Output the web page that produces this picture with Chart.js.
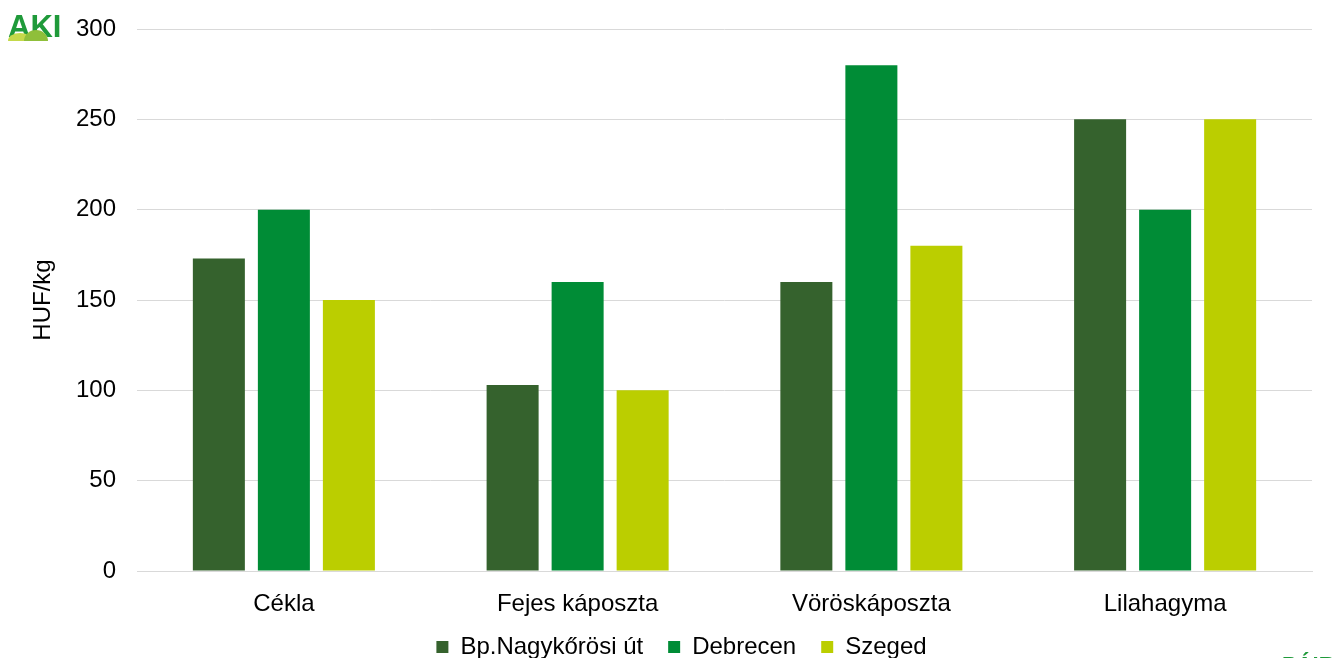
<!DOCTYPE html>
<html>
<head>
<meta charset="utf-8">
<script src="https://cdn.jsdelivr.net/npm/chart.js@4/dist/chart.umd.min.js"></script>
<style>
  html, body { margin: 0; padding: 0; background: #fff; }
  #wrap { width: 1337px; height: 658px; }
</style>
</head>
<body>
<div id="wrap"><canvas id="myChart"></canvas></div>
<script>
const categories = ['Cékla', 'Fejes káposzta', 'Vöröskáposzta', 'Lilahagyma'];
const budapest = [173, 103, 160, 250];
const debrecen = [200, 160, 280, 200];
const szeged = [150, 100, 180, 250];

const FONT = { family: 'Liberation Sans', size: 24 };

// small logo marks in the corners
const logos = {
  id: 'logos',
  afterLayout(chart) {
    // move legend like the original
    const lg = chart.legend;
    lg.left += 13; lg.right += 13;
    lg.top -= 9; lg.bottom -= 9;
  },
  afterDraw(chart) {
    const c = chart.ctx;
    c.save();
    c.fillStyle = '#1f9a3a';
    c.font = 'bold 31px "Liberation Sans"';
    c.textBaseline = 'alphabetic';
    c.fillText('AKI', 8, 37);
    c.fillStyle = '#c4d94a';
    c.beginPath();
    c.ellipse(20, 41, 12, 8, 0, Math.PI, 0);
    c.fill();
    c.fillStyle = '#8fbf3a';
    c.beginPath();
    c.ellipse(36, 41, 12, 11, 0, Math.PI, 0);
    c.fill();
    c.fillStyle = '#1f9a3a';
    c.font = 'bold 22px "Liberation Sans"';
    c.fillText('PÁIR', 1282, 672);
    c.restore();
  }
};

new Chart(document.getElementById('myChart'), {
  type: 'bar',
  data: {
    labels: categories,
    datasets: [
      { label: 'Bp.Nagykőrösi út', data: budapest, backgroundColor: '#35622d' },
      { label: 'Debrecen', data: debrecen, backgroundColor: '#008c36' },
      { label: 'Szeged', data: szeged, backgroundColor: '#bbce00' },
    ],
  },
  options: {
    responsive: true,
    maintainAspectRatio: false,
    animation: false,
    categoryPercentage: 0.664,
    barPercentage: 0.8,
    layout: { padding: { top: 29, right: 25, left: 25, bottom: -20 } },
    plugins: {
      tooltip: { enabled: false },
      legend: {
        position: 'bottom',
        labels: {
          boxWidth: 12,
          boxHeight: 12,
          padding: 25,
          color: '#000',
          font: FONT,
        },
      },
    },
    scales: {
      x: {
        grid: { display: false, drawTicks: false },
        border: { color: '#d9d9d9' },
        ticks: { color: '#000', font: FONT, padding: 19 },
        afterFit(scale) { scale.height = 48; },
      },
      y: {
        min: 0,
        max: 300,
        ticks: { stepSize: 50, color: '#000', font: FONT, padding: 21 },
        grid: { color: '#d9d9d9', drawTicks: false },
        border: { display: false },
        title: {
          display: true,
          text: 'HUF/kg',
          color: '#000',
          font: FONT,
        },
        afterFit(scale) {
          scale.width = 112;
          scale.paddingTop = 0;
        },
      },
    },
  },
  plugins: [logos],
});
</script>
</body>
</html>
